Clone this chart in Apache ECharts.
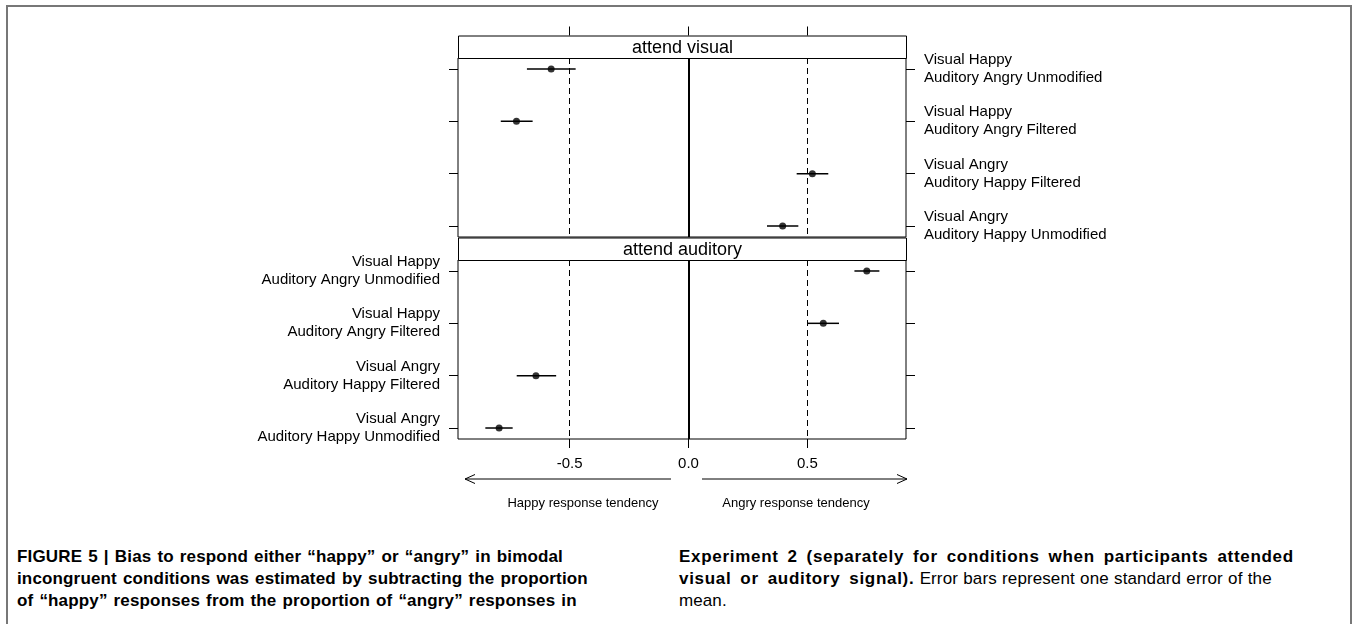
<!DOCTYPE html>
<html lang="en">
<head>
  <meta charset="UTF-8">
  <title>Bias to respond happy or angry</title>
  <script src="https://cdn.jsdelivr.net/npm/echarts@6/dist/echarts.min.js"></script>
  <style>
    body { margin: 0; padding: 0; background: #fff; font-family: 'Liberation Sans', Arial, sans-serif; }
    #wrap { position: relative; width: 1357px; height: 624px; overflow: hidden; }
    #biasChart { position: absolute; left: 0; top: 0; width: 1357px; height: 540px; }
    .frame { position: absolute; left: 6px; top: 5px; width: 1346px; height: 700px; border: 2px solid #777; box-sizing: border-box; }
    .caption { position: absolute; top: 546px; font-size: 17px; line-height: 22px; color: #000; white-space: nowrap; }
    .caption b { font-weight: bold; }
    #capLeft { left: 17px; font-weight: bold; letter-spacing: 0.15px; word-spacing: 1.2px; }
    #capRight { left: 679px; letter-spacing: 0.7px; word-spacing: 3.5px; }
    #capRight .plain { letter-spacing: 0.1px; word-spacing: 0.5px; }
  </style>
</head>
<body>
  <div id="wrap">
    <div class="frame"></div>
    <div id="biasChart"></div>
    <div class="caption" id="capLeft">FIGURE 5 | Bias to respond either “happy” or “angry” in bimodal<br>incongruent conditions was estimated by subtracting the proportion<br>of “happy” responses from the proportion of “angry” responses in</div>
    <div class="caption" id="capRight"><b>Experiment 2 (separately for conditions when participants attended<br>visual or auditory signal).</b><span class="plain"> Error bars represent one standard error of the<br>mean.</span></div>
  </div>

  <script>
    // conditions, top to bottom
    const conditions = [
      'Visual Happy\nAuditory Angry Unmodified',
      'Visual Happy\nAuditory Angry Filtered',
      'Visual Angry\nAuditory Happy Filtered',
      'Visual Angry\nAuditory Happy Unmodified'
    ];
    const rowPos = [1, 2, 3, 4];
    const panels = ['attend visual', 'attend auditory'];
    const xTicks = [-0.5, 0, 0.5];

    // attend visual: mean and +/- one SE
    const visualMean = [-0.578, -0.724, 0.521, 0.396];
    const visualLow = [-0.68, -0.79, 0.455, 0.33];
    const visualHigh = [-0.475, -0.656, 0.588, 0.462];

    // attend auditory
    const auditoryMean = [0.75, 0.567, -0.642, -0.797];
    const auditoryLow = [0.698, 0.5, -0.723, -0.855];
    const auditoryHigh = [0.803, 0.633, -0.557, -0.74];

    const chart = echarts.init(document.getElementById('biasChart'));

    const labelFont = { fontFamily: 'Liberation Sans', fontSize: 15, color: '#000' };
    const xMin = -0.97, xMax = 0.915;
    const yMin = 0.79, yMax = 4.21;

    const panelLeft = 458, panelWidth = 448, panelHeight = 179, stripHeight = 22.5;
    const grid0Top = 58, grid1Top = 260;

    function yAxisFor(gridIndex, position, showLabel) {
      return {
        type: 'value', gridIndex: gridIndex, position: position,
        inverse: true, min: yMin, max: yMax,
        axisLine: { show: false, onZero: false },
        splitLine: { show: false },
        axisTick: { show: true, customValues: rowPos, length: 9, lineStyle: { color: '#000', width: 1 } },
        axisLabel: {
          show: showLabel, customValues: rowPos,
          margin: 18, lineHeight: 18,
          align: position === 'right' ? 'left' : 'right',
          formatter: v => conditions[Math.round(v) - 1],
          ...labelFont
        }
      };
    }

    function refLines() {
      return {
        silent: true, symbol: 'none', label: { show: false },
        data: [
          { xAxis: -0.5, lineStyle: { type: [6, 4], width: 1, color: '#000' } },
          { xAxis: 0, lineStyle: { type: 'solid', width: 2, color: '#000' } },
          { xAxis: 0.5, lineStyle: { type: [6, 4], width: 1, color: '#000' } }
        ]
      };
    }

    function errBars(low, high, xIdx, yIdx) {
      return {
        type: 'custom', xAxisIndex: xIdx, yAxisIndex: yIdx,
        data: rowPos.map((r, i) => [low[i], high[i], r]),
        encode: { x: [0, 1], y: 2 },
        renderItem: function (params, api) {
          const a = api.coord([api.value(0), api.value(2)]);
          const b = api.coord([api.value(1), api.value(2)]);
          return { type: 'line', shape: { x1: a[0], y1: a[1], x2: b[0], y2: b[1] }, style: { stroke: '#000', lineWidth: 1.5 } };
        }
      };
    }

    function points(mean, xIdx, yIdx) {
      return {
        type: 'scatter', xAxisIndex: xIdx, yAxisIndex: yIdx,
        data: rowPos.map((r, i) => [mean[i], r]),
        symbol: 'circle', symbolSize: 7,
        itemStyle: { color: '#000' },
        markLine: refLines(),
        z: 5
      };
    }

    function strip(top, text) {
      return {
        type: 'group', left: panelLeft, top: top,
        children: [
          { type: 'rect', shape: { x: 0, y: 0, width: panelWidth, height: stripHeight }, style: { fill: '#fff', stroke: '#000', lineWidth: 1 } },
          { type: 'text', x: panelWidth / 2, y: stripHeight / 2 + 1, style: { text: text, fontFamily: 'Liberation Sans', fontSize: 18, fill: '#000', align: 'center', verticalAlign: 'middle' } }
        ]
      };
    }

    const option = {
      animation: false,
      grid: [
        { left: panelLeft, top: grid0Top, width: panelWidth, height: panelHeight, show: true, borderColor: '#000', borderWidth: 1 },
        { left: panelLeft, top: grid1Top, width: panelWidth, height: panelHeight, show: true, borderColor: '#000', borderWidth: 1 }
      ],
      xAxis: [
        {
          type: 'value', gridIndex: 0, position: 'top', offset: stripHeight,
          min: xMin, max: xMax,
          axisLine: { show: false, onZero: false }, splitLine: { show: false },
          axisTick: { show: true, customValues: xTicks, length: 9, lineStyle: { color: '#000' } },
          axisLabel: { show: false }
        },
        {
          type: 'value', gridIndex: 1, position: 'bottom',
          min: xMin, max: xMax,
          axisLine: { show: false, onZero: false }, splitLine: { show: false },
          axisTick: { show: true, customValues: xTicks, length: 9, lineStyle: { color: '#000' } },
          axisLabel: { show: true, customValues: xTicks, margin: 17, formatter: v => v.toFixed(1), ...labelFont }
        }
      ],
      yAxis: [
        yAxisFor(0, 'left', false),
        yAxisFor(0, 'right', true),
        yAxisFor(1, 'left', true),
        yAxisFor(1, 'right', false)
      ],
      series: [
        errBars(visualLow, visualHigh, 0, 0),
        points(visualMean, 0, 0),
        errBars(auditoryLow, auditoryHigh, 1, 2),
        points(auditoryMean, 1, 2)
      ],
      graphic: [
        strip(grid0Top - stripHeight, panels[0]),
        strip(grid1Top - stripHeight, panels[1]),
        // direction arrows under the x axis
        { type: 'polyline', shape: { points: [[671, 479], [465, 479]] }, style: { stroke: '#000', lineWidth: 1, fill: null } },
        { type: 'polyline', shape: { points: [[475, 474.5], [465, 479], [475, 483.5]] }, style: { stroke: '#000', lineWidth: 1, fill: null } },
        { type: 'polyline', shape: { points: [[702, 479], [907, 479]] }, style: { stroke: '#000', lineWidth: 1, fill: null } },
        { type: 'polyline', shape: { points: [[897, 474.5], [907, 479], [897, 483.5]] }, style: { stroke: '#000', lineWidth: 1, fill: null } },
        { type: 'text', x: 583, y: 503, style: { text: 'Happy response tendency', fontFamily: 'Liberation Sans', fontSize: 13, fill: '#000', align: 'center', verticalAlign: 'middle' } },
        { type: 'text', x: 796, y: 503, style: { text: 'Angry response tendency', fontFamily: 'Liberation Sans', fontSize: 13, fill: '#000', align: 'center', verticalAlign: 'middle' } }
      ]
    };

    chart.setOption(option);
  </script>
</body>
</html>
